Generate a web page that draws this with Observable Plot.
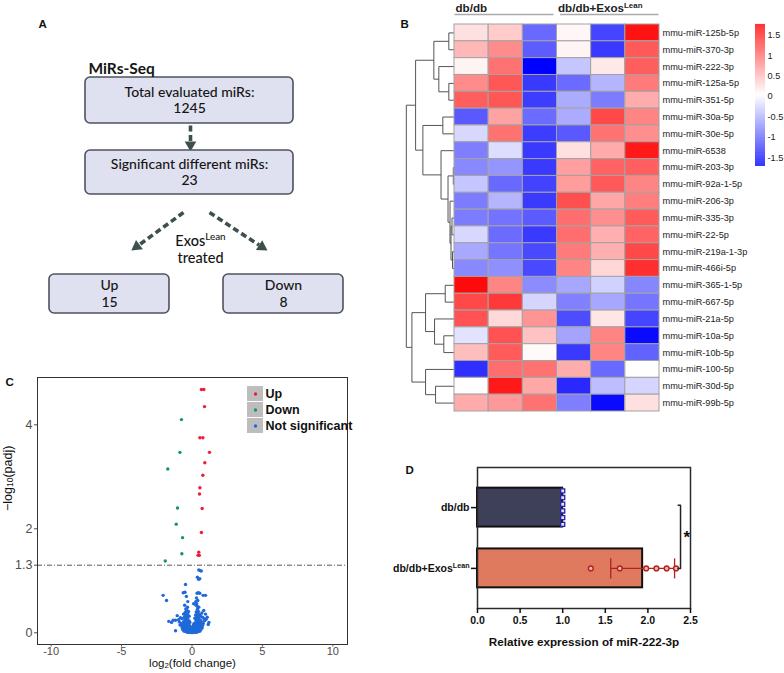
<!DOCTYPE html>
<html><head><meta charset="utf-8">
<script src="https://cdn.jsdelivr.net/npm/d3@7"></script>
<script src="https://cdn.jsdelivr.net/npm/@observablehq/plot@0.6"></script>
<style>
html,body{margin:0;padding:0;background:#fff;}
#fig{position:relative;width:784px;height:673px;overflow:hidden;background:#fff;}
#fig .panel{position:absolute;}
#fig svg{overflow:visible;display:block;}
</style></head>
<body><div id="fig"></div>
<script>
// ---------------- Panel A: flow chart ----------------
const flowLabels = ["Total evaluated miRs:", "Significant different miRs:", "Up", "Down"];
const flowCounts = [1245, 23, 15, 8];
const flowTitle = "MiRs-Seq";
const flowTreatment = ["Exos^{Lean}", "treated"];

// ---------------- Panel B: heatmap ----------------
const rowNames = ["mmu-miR-125b-5p","mmu-miR-370-3p","mmu-miR-222-3p","mmu-miR-125a-5p","mmu-miR-351-5p",
  "mmu-miR-30a-5p","mmu-miR-30e-5p","mmu-miR-6538","mmu-miR-203-3p","mmu-miR-92a-1-5p","mmu-miR-206-3p",
  "mmu-miR-335-3p","mmu-miR-22-5p","mmu-miR-219a-1-3p","mmu-miR-466i-5p","mmu-miR-365-1-5p","mmu-miR-667-5p",
  "mmu-miR-21a-5p","mmu-miR-10a-5p","mmu-miR-10b-5p","mmu-miR-100-5p","mmu-miR-30d-5p","mmu-miR-99b-5p"];
const heatValues = [
  [0.24, 0.38, -1.00, 0.08, -1.25, 1.65],
  [0.52, 0.81, -1.09, 0.10, -1.33, 1.16],
  [0.10, 0.99, -1.72, -0.37, 0.18, 1.13],
  [0.82, 1.18, -1.32, -0.99, -0.49, 0.93],
  [1.13, 1.18, -1.30, -0.54, -0.87, 0.59],
  [-1.11, 0.66, -0.99, -0.55, 1.27, 0.87],
  [-0.24, 0.99, -1.30, -1.11, 0.99, 0.80],
  [-0.86, -0.21, -1.32, 0.24, 0.60, 1.60],
  [-0.79, -0.70, -1.32, 0.68, 1.09, 1.12],
  [-0.37, -1.00, -1.27, 0.70, 1.16, 0.86],
  [-0.87, -0.49, -1.32, 1.22, 0.63, 0.90],
  [-0.87, -0.93, -1.10, 1.02, 0.80, 1.15],
  [-0.25, -0.99, -1.33, 1.02, 0.57, 1.09],
  [-0.57, -0.92, -1.22, 0.93, 0.57, 1.27],
  [-0.79, -0.74, -1.22, 0.87, 0.30, 1.45],
  [1.70, 0.87, -0.76, -0.58, -0.29, -0.80],
  [1.28, 1.38, -0.26, -0.84, -0.58, -0.92],
  [1.20, 0.29, 0.76, -1.19, 0.20, -1.25],
  [-0.17, 1.20, 0.44, -0.60, 0.87, -1.65],
  [0.47, 1.15, 0.06, -1.32, 0.87, -1.05],
  [-1.40, 1.02, 0.99, 0.59, -1.00, 0.02],
  [0.04, 1.60, 0.62, -1.44, -0.43, -0.26],
  [0.60, 0.72, 0.99, -0.86, -1.65, 0.24]
];
const colGroups = ["db/db", "db/db+Exos^{Lean}"];
const colorTicks = [-1.5, -1, -0.5, 0, 0.5, 1, 1.5];
// hierarchical clustering of rows: [left, right, height]; numbers refer to earlier merges
const dendroMerges = [
  ["mmu-miR-125b-5p", "mmu-miR-370-3p", 5.7],
  ["mmu-miR-125a-5p", "mmu-miR-351-5p", 5.7],
  ["mmu-miR-222-3p", 1, 15.7],
  [0, 2, 20.7],
  ["mmu-miR-30a-5p", "mmu-miR-30e-5p", 11.7],
  ["mmu-miR-203-3p", "mmu-miR-92a-1-5p", 1.2],
  ["mmu-miR-335-3p", "mmu-miR-22-5p", 2.5],
  ["mmu-miR-219a-1-3p", "mmu-miR-466i-5p", 2],
  [6, 7, 3.5],
  ["mmu-miR-206-3p", 8, 4.5],
  [5, 9, 6.5],
  ["mmu-miR-6538", 10, 13.5],
  [4, 11, 31.7],
  [3, 12, 39],
  ["mmu-miR-365-1-5p", "mmu-miR-667-5p", 9.3],
  ["mmu-miR-10a-5p", "mmu-miR-10b-5p", 10.7],
  ["mmu-miR-21a-5p", 15, 20],
  [14, 16, 29],
  ["mmu-miR-30d-5p", "mmu-miR-99b-5p", 19],
  ["mmu-miR-100-5p", 18, 29],
  [17, 19, 42.7],
  [13, 20, 48.3]
];

// ---------------- Panel C: volcano ----------------
const volcanoCats = ["Up", "Down", "Not significant"];
const upPoints = [[0.67,4.68],[0.84,4.68],[0.89,4.35],[0.56,3.75],[0.77,3.75],[1.24,3.47],[0.91,3.27],
  [0.77,3.03],[0.56,2.79],[0.53,2.67],[0.72,2.39],[0.67,1.93],[0.48,1.55],[0.43,1.49],[0.52,1.49]];
const downPoints = [[-0.75,4.10],[-0.86,3.47],[-1.72,3.15],[-1.03,2.40],[-1.12,2.09],[-0.67,1.83],[-0.72,1.52],[-1.90,1.38]];
const notSigPoints = [
  [0.48,1.21],[0.55,1.20],[0.66,1.19],[0.38,1.07],[0.47,1.03],[0.55,1.04],
  [-0.46,0.93],[-2.05,0.72],[-1.81,0.62],[-0.5,0.78],[-0.4,0.70],[-0.62,0.77],
  [0.36,0.76],[0.55,0.76],[0.79,0.72],[0.96,0.72],[0.45,0.77],[0.32,0.67],[0.41,0.62],[0.27,0.6],
  [-0.52,0.53],[-0.32,0.49],[-0.44,0.46],[-0.3,0.6],[0.12,0.56],[0.29,0.53],[0.48,0.49],[0.38,0.45],
  [0.83,0.43],[0.96,0.36],[1.08,0.30],[1.0,0.26],[-1.05,0.33],[-0.82,0.29],[-0.95,0.25],
  [-1.65,0.22],[-1.34,0.24],[-1.17,0.24],[-1.45,0.2],[1.2,0.20],[1.15,0.16],[-1.17,0.04],
  [-0.45,0.40],[-0.25,0.41],[0.3,0.40],[0.45,0.41],[0.7,0.38],[-0.38,0.44],[0.4,0.5],[0.33,0.56],
  [-0.6,0.36],[-0.3,0.36],[0.35,0.36],[0.55,0.35],[-0.5,0.38],[0.42,0.38],
  [-0.4,0.33],[-0.2,0.32],[0.4,0.33],[0.6,0.32],[0.25,0.34],[-0.48,0.34],
  [-0.55,0.30],[-0.35,0.30],[0.32,0.30],[0.5,0.29],[0.75,0.3],[0.38,0.31],
  [-0.7,0.27],[-0.45,0.27],[-0.3,0.27],[0.35,0.27],[0.45,0.26],[0.85,0.27],[0.2,0.28],[-0.38,0.28],
  [-0.5,0.24],[-0.35,0.24],[-0.2,0.23],[0.3,0.24],[0.42,0.24],[0.6,0.24],[0.9,0.23],[-0.42,0.25],[0.36,0.25],
  [-0.9,0.21],[-0.6,0.21],[-0.4,0.21],[-0.28,0.21],[-0.15,0.2],[0.28,0.21],[0.38,0.21],[0.55,0.2],[0.7,0.21],[-0.5,0.21],[0.46,0.22],
  [-0.75,0.18],[-0.55,0.18],[-0.45,0.18],[-0.35,0.18],[-0.25,0.17],[0.15,0.18],[0.25,0.18],[0.35,0.18],[0.45,0.18],[0.6,0.18],[0.8,0.18],
  [-0.85,0.15],[-0.68,0.15],[-0.52,0.15],[-0.4,0.15],[-0.3,0.15],[-0.2,0.15],[0.1,0.15],[0.2,0.15],[0.3,0.15],[0.4,0.15],[0.52,0.15],[0.65,0.15],[0.75,0.14],
  [-0.7,0.12],[-0.6,0.12],[-0.48,0.12],[-0.36,0.12],[-0.25,0.12],[-0.15,0.12],[0.05,0.12],[0.15,0.12],[0.25,0.12],[0.35,0.12],[0.45,0.12],[0.56,0.12],[0.68,0.11],
  [-0.7,0.09],[-0.58,0.09],[-0.45,0.09],[-0.33,0.09],[-0.22,0.09],[-0.12,0.09],[-0.02,0.09],[0.08,0.09],[0.18,0.09],[0.28,0.09],[0.38,0.09],[0.5,0.09],[0.62,0.09],[0.72,0.09],
  [-0.65,0.06],[-0.5,0.06],[-0.38,0.06],[-0.28,0.06],[-0.18,0.06],[-0.08,0.06],[0.02,0.06],[0.12,0.06],[0.22,0.06],[0.32,0.06],[0.42,0.06],[0.52,0.06],[0.62,0.06],
  [-0.55,0.03],[-0.45,0.03],[-0.3,0.03],[-0.2,0.03],[-0.1,0.03],[0,0.03],[0.1,0.03],[0.2,0.03],[0.3,0.03],[0.45,0.03],[0.55,0.03],
  [-0.35,0.01],[-0.25,0.01],[-0.15,0.01],[-0.05,0.005],[0.05,0.005],[0.15,0.01],[0.25,0.01],[0.35,0.01]
];
const volcanoXTicks = [-10, -5, 0, 5, 10];
const volcanoYTicks = [0, 1.3, 2, 4];
const padjThreshold = 1.3;

// ---------------- Panel D: bars ----------------
const barGroups = ["db/db", "db/db+Exos^{Lean}"];
const dbdbValues = [1, 1, 1, 1, 1, 1];
const exosValues = [1.33, 1.67, 1.98, 2.10, 2.22, 2.33];
const barXTicks = [0, 0.5, 1, 1.5, 2, 2.5];

// ---------------- helpers ----------------
const fig = document.getElementById("fig");
function place(node, left, top) {
  const d = document.createElement("div");
  d.className = "panel";
  d.style.left = left + "px"; d.style.top = top + "px";
  d.appendChild(node); fig.appendChild(d);
  richify(node);
  return node;
}
function richify(root) {
  const ns = "http://www.w3.org/2000/svg";
  root.querySelectorAll("text, tspan").forEach(el => {
    if (el.childElementCount) return;
    const t = el.textContent;
    if (!/[\^_]\{/.test(t)) return;
    el.textContent = "";
    const re = /([\^_])\{([^}]*)\}/g; let last = 0, m;
    const add = (s, kind) => {
      if (!s) return;
      const ts = document.createElementNS(ns, "tspan");
      ts.textContent = s;
      if (kind) { ts.setAttribute("font-size", "68%"); ts.setAttribute("baseline-shift", kind === "^" ? "super" : "-12%"); }
      el.appendChild(ts);
    };
    while ((m = re.exec(t))) { add(t.slice(last, m.index)); add(m[2], m[1]); last = re.lastIndex; }
    add(t.slice(last));
  });
}
const baseStyle = {background: "transparent", overflow: "visible"};

// ---------------- Panel A render ----------------
{
  const boxes = [
    {x1: 85, x2: 293, y1: 77, y2: 123},
    {x1: 85, x2: 293, y1: 150, y2: 194},
    {x1: 49, x2: 169, y1: 274, y2: 313},
    {x1: 223, x2: 343, y1: 274, y2: 313}
  ].map((b, i) => ({...b, label: flowLabels[i], count: flowCounts[i], cx: (b.x1 + b.x2) / 2, cy: (b.y1 + b.y2) / 2}));
  const arrows = [
    {x1: 190, y1: 125, x2: 190, y2: 141},
    {x1: 183, y1: 212, x2: 138.9, y2: 244.2},
    {x1: 209, y1: 212, x2: 258.6, y2: 244.6}
  ].map(a => {
    const dx = a.x2 - a.x1, dy = a.y2 - a.y1, L = Math.hypot(dx, dy);
    return {...a, hx: a.x2 + dx / L * 3.3, hy: a.y2 + dy / L * 3.3, rot: Math.atan2(dx, -dy) * 180 / Math.PI};
  });
  const arrowColor = "#3e504d";
  const svg = Plot.plot({
    width: 390, height: 330, margin: 0,
    x: {domain: [0, 390], range: [0, 390], axis: null},
    y: {domain: [0, 330], range: [0, 330], axis: null},
    style: {...baseStyle, fontFamily: "Lato, 'Open Sans', sans-serif", fontSize: "14px", fontWeight: 500, color: "#151515"},
    marks: [
      Plot.link(arrows, {x1: "x1", y1: "y1", x2: "x2", y2: "y2", stroke: arrowColor, strokeWidth: 3.6, strokeDasharray: "6,3.5"}),
      Plot.dot(arrows, {x: "hx", y: "hy", symbol: "triangle", r: 4.3, rotate: "rot", fill: arrowColor}),
      Plot.rect(boxes, {x1: "x1", x2: "x2", y1: "y1", y2: "y2", rx: 5, fill: "#dfe1f0", stroke: "#4f535e", strokeWidth: 1.6}),
      Plot.text(boxes, {x: "cx", y: d => d.cy - 8, text: "label"}),
      Plot.text(boxes, {x: "cx", y: d => d.cy + 8.5, text: d => String(d.count)}),
      Plot.text([flowTitle], {x: 88, y: 69, textAnchor: "start", fontWeight: "bold", fontSize: 15.5}),
      Plot.text(flowTreatment, {x: 200, y: (d, i) => 241 + i * 17, fontSize: 14.5})
    ]
  });
  place(svg, 0, 0);
}

// ---------------- Panel B render ----------------
const heatColor = {type: "linear", domain: [-1.72, 0.025, 1.77], range: ["#0000ff", "#ffffff", "#ff0000"], interpolate: "rgb"};
{
  const cells = rowNames.flatMap((r, i) => heatValues[i].map((v, j) => ({row: i, col: j, v})));
  const leafPos = name => rowNames.indexOf(name) + 0.5;
  const nodes = [], segs = [];
  const get = ref => typeof ref === "string" ? {h: 0, y: leafPos(ref)} : nodes[ref];
  dendroMerges.forEach(([a, b, h]) => {
    const A = get(a), B = get(b);
    segs.push({h1: h, y1: A.y, h2: h, y2: B.y});
    segs.push({h1: h, y1: A.y, h2: A.h, y2: A.y});
    segs.push({h1: h, y1: B.y, h2: B.h, y2: B.y});
    nodes.push({h, y: (A.y + B.y) / 2});
  });
  const rootH = d3.max(dendroMerges, d => d[2]);
  const k = 1.41 / rootH; // dendrogram width in column units
  const svg = Plot.plot({
    width: 394, height: 420, marginLeft: 12.75, marginRight: 125, marginTop: 24, marginBottom: 9,
    x: {domain: [-1.5, 6], axis: null},
    y: {domain: [0, 23], reverse: true, axis: null},
    color: heatColor,
    style: {...baseStyle, fontFamily: "'Liberation Sans', Arial, sans-serif", fontSize: "9px", color: "#222"},
    marks: [
      Plot.link(segs, {x1: d => -d.h1 * k, y1: "y1", x2: d => -d.h2 * k, y2: "y2", stroke: "#555", strokeWidth: 1}),
      Plot.rect(cells, {x1: "col", x2: d => d.col + 1, y1: "row", y2: d => d.row + 1, fill: "v", stroke: "#a3a3a3", strokeWidth: 1}),
      Plot.text(rowNames, {x: 6, y: (d, i) => i + 0.5, textAnchor: "start", dx: 3, fontSize: 9.2}),
      Plot.text(colGroups, {x: (d, i) => i * 3 + 0.03, y: -0.95, textAnchor: "start", fontWeight: "bold", fontSize: 11.6}),
      Plot.link(colGroups, {x1: (d, i) => i * 3 + (i ? 0.09 : 0), x2: (d, i) => i * 3 + (i ? 2.97 : 2.9), y1: -0.59, y2: -0.59, stroke: "#aaa", strokeWidth: 1.6})
    ]
  });
  place(svg, 390, 0);

  const stops = d3.range(-1.72, 1.77, 0.01);
  const bar = Plot.plot({
    width: 34, height: 180, marginLeft: 5, marginRight: 19, marginTop: 24, marginBottom: 14,
    x: {domain: [0, 1], axis: null},
    y: {domain: [-1.72, 1.77]},
    color: heatColor,
    style: {...baseStyle, fontFamily: "'Liberation Sans', Arial, sans-serif", fontSize: "9px", color: "#222"},
    marks: [
      Plot.rect(stops, {x1: 0, x2: 1, y1: d => d, y2: d => d + 0.012, fill: d => d}),
      Plot.axisY({anchor: "right", ticks: colorTicks, tickFormat: d => String(d), tickSize: 0, tickPadding: 2, label: null, fontSize: 9.2})
    ]
  });
  place(bar, 750, 0);
}

// ---------------- Panel C render ----------------
const catColor = {domain: volcanoCats, range: ["#ee1c3a", "#12966a", "#1f6ad8"]};
{
  const pts = [
    ...notSigPoints.map(([x, y]) => ({x, y, cat: "Not significant"})),
    ...downPoints.map(([x, y]) => ({x, y, cat: "Down"})),
    ...upPoints.map(([x, y]) => ({x, y, cat: "Up"}))
  ];
  const svg = Plot.plot({
    width: 390, height: 333, marginLeft: 37, marginRight: 43, marginTop: 37, marginBottom: 29,
    x: {domain: [-10.97, 11.04]},
    y: {domain: [-0.225, 4.91]},
    color: catColor,
    style: {...baseStyle, fontFamily: "'Liberation Sans', Arial, sans-serif", fontSize: "12px", color: "#111"},
    marks: [
      Plot.ruleY([padjThreshold], {stroke: "#444", strokeWidth: 0.9, strokeDasharray: "5,2,1,2"}),
      Plot.dot(pts, {x: "x", y: "y", fill: "cat", r: 1.7}),
      Plot.frame({stroke: "#333", strokeWidth: 1}),
      Plot.axisX({ticks: volcanoXTicks, tickFormat: d => String(d), tickSize: 2.5, tickPadding: 0, label: null, color: "#4d4d4d", fontSize: 11}),
      Plot.axisY({ticks: volcanoYTicks, tickFormat: d => String(d), tickSize: 3, tickPadding: 2, label: null, color: "#4d4d4d", fontSize: 12.5}),
      Plot.text(["log_{2}(fold change)"], {frameAnchor: "bottom", dy: 22, fontSize: 11.5}),
      Plot.text(["\u2212log_{10}(padj)"], {frameAnchor: "left", rotate: -90, dx: -30, fontSize: 12.5})
    ]
  });
  place(svg, 0, 340);

  const legend = Plot.plot({
    width: 120, height: 53, marginLeft: 0, marginRight: 104, marginTop: 1, marginBottom: 1,
    x: {domain: ["key"], axis: null, padding: 0},
    y: {domain: volcanoCats, axis: null, padding: 0.08},
    color: catColor,
    style: {...baseStyle, fontFamily: "'Liberation Sans', Arial, sans-serif", fontSize: "12.5px", color: "#111"},
    marks: [
      Plot.cell(volcanoCats, {x: () => "key", y: d => d, fill: "#bdbdbd", inset: 0}),
      Plot.dot(volcanoCats, {x: () => "key", y: d => d, fill: d => d, r: 1.7}),
      Plot.text(volcanoCats, {x: () => "key", y: d => d, dx: 10, textAnchor: "start", fontWeight: "bold"})
    ]
  });
  place(legend, 247, 383);
}

// ---------------- Panel D render ----------------
{
  const groupsData = [dbdbValues, exosValues].map((vals, i) => ({
    i, name: barGroups[i], mean: d3.mean(vals), sd: d3.deviation(vals)
  }));
  const barFills = ["#3e4059", "#e07a5f"];
  const exos = groupsData[1];
  const bracketX = 2.383;
  const svg = Plot.plot({
    width: 394, height: 253, marginLeft: 87, marginRight: 94, marginTop: 47, marginBottom: 65,
    x: {domain: [0, 2.5]},
    y: {domain: [1.66, -0.66]},
    style: {...baseStyle, fontFamily: "'Liberation Sans', Arial, sans-serif", fontSize: "10.5px", fontWeight: "bold", color: "#111"},
    marks: [
      Plot.rect(groupsData, {x1: 0, x2: "mean", y1: d => d.i - 0.32, y2: d => d.i + 0.32, fill: d => barFills[d.i], stroke: "#111", strokeWidth: 2}),
      ...dbdbValues.map((v, j) => Plot.dot([v], {x: d => d, y: 0, dy: (j - 2.5) * 6.7, symbol: "square", r: 2.3, stroke: "#2424a8", strokeWidth: 1.3, fill: "#dfe0ff"})),
      Plot.link([exos], {x1: d => d.mean - d.sd, x2: d => d.mean + d.sd, y1: 1, y2: 1, stroke: "#b22222", strokeWidth: 1.3}),
      Plot.link([exos.mean - exos.sd, exos.mean + exos.sd], {x1: d => d, x2: d => d, y1: 1 - 0.165, y2: 1 + 0.165, stroke: "#b22222", strokeWidth: 1.3}),
      Plot.dot(exosValues, {x: d => d, y: 1, r: 2.4, stroke: "#b22222", strokeWidth: 1.4, fill: "#f0b9a6"}),
      Plot.line([[bracketX - 0.028, -0.04], [bracketX, -0.04], [bracketX, 1.0], [bracketX - 0.028, 1.0]], {x: d => d[0], y: d => d[1], stroke: "#222", strokeWidth: 1.5}),
      Plot.text(["*"], {x: bracketX + 0.075, y: 0.5, fontSize: 17}),
      Plot.frame({stroke: "#2b2b2b", strokeWidth: 1.5}),
      Plot.axisY({ticks: [0, 1], tickFormat: i => barGroups[i], tickSize: 6, tickPadding: 2, label: null, strokeWidth: 1.5}),
      Plot.axisX({ticks: barXTicks, tickFormat: d3.format(".1f"), tickSize: 5, tickPadding: 3, label: null, strokeWidth: 1.5}),
      Plot.text(["Relative expression of miR-222-3p"], {frameAnchor: "bottom", dy: 37, fontSize: 11.7})
    ]
  });
  place(svg, 390, 420);
}

// ---------------- panel letters ----------------
{
  const letters = [{t: "A", x: 38, y: 27}, {t: "B", x: 400, y: 27}, {t: "C", x: 5, y: 385}, {t: "D", x: 405, y: 473}];
  const svg = Plot.plot({
    width: 784, height: 673, margin: 0,
    x: {domain: [0, 784], range: [0, 784], axis: null},
    y: {domain: [0, 673], range: [0, 673], axis: null},
    style: {...baseStyle, fontFamily: "'Liberation Sans', Arial, sans-serif", fontSize: "11.5px", fontWeight: "bold", color: "#111"},
    marks: [Plot.text(letters, {x: "x", y: "y", text: "t", textAnchor: "start", lineAnchor: "bottom"})]
  });
  svg.style.pointerEvents = "none";
  place(svg, 0, 0);
}
</script>
</body></html>
